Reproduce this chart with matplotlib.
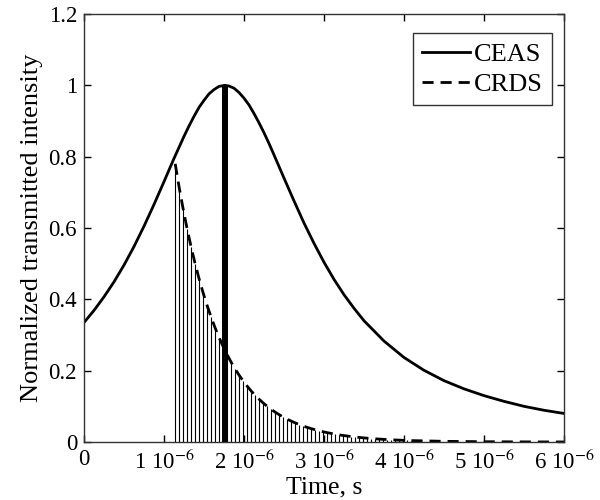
import numpy as np
import matplotlib
matplotlib.use("Agg")
import matplotlib.pyplot as plt

plt.rcParams['font.family'] = ['Liberation Serif', 'DejaVu Serif']
plt.rcParams['mathtext.fontset'] = 'stix'

# CEAS transmitted intensity (time in microseconds)
ceas_t_us = [0.0, 0.125, 0.25, 0.375, 0.5, 0.625, 0.75, 0.875, 1.0, 1.125, 1.25, 1.3125,
             1.375, 1.4375, 1.5, 1.5625, 1.625, 1.6875, 1.76, 1.8125, 1.875, 1.9375,
             2.0, 2.0625, 2.125, 2.1875, 2.25, 2.3125, 2.375, 2.5, 2.625, 2.75, 2.875,
             3.0, 3.125, 3.25, 3.375, 3.5, 3.75, 4.0, 4.25, 4.5, 4.75, 5.0, 5.25, 5.5,
             5.75, 6.0]
ceas_val = [0.335, 0.369, 0.407, 0.449, 0.496, 0.548, 0.605, 0.666, 0.730, 0.795, 0.857, 0.886,
            0.913, 0.938, 0.958, 0.976, 0.988, 0.997, 1.0, 0.998, 0.992, 0.980,
            0.964, 0.945, 0.921, 0.895, 0.867, 0.837, 0.805, 0.740, 0.676, 0.614, 0.557,
            0.504, 0.456, 0.413, 0.375, 0.340, 0.283, 0.237, 0.201, 0.172, 0.149, 0.130,
            0.114, 0.100, 0.089, 0.080]

# CRDS ring-down samples (time in microseconds)
crds_t_us = [1.14, 1.19, 1.24, 1.29, 1.34, 1.39, 1.44, 1.49, 1.54, 1.59,
             1.64, 1.69, 1.74, 1.79, 1.84, 1.89, 1.94, 1.99, 2.04, 2.09,
             2.14, 2.19, 2.24, 2.29, 2.34, 2.39, 2.44, 2.49, 2.54, 2.59,
             2.64, 2.69, 2.74, 2.79, 2.84, 2.89, 2.94, 2.99, 3.04, 3.09,
             3.14, 3.19, 3.24, 3.29, 3.34, 3.39, 3.44, 3.49, 3.54, 3.59,
             3.64, 3.69, 3.74, 3.79, 3.84, 3.89, 3.94, 3.99, 4.04, 4.09, 4.14]
crds_val = [0.780, 0.7134, 0.6525, 0.5967, 0.5458, 0.4992, 0.4565, 0.4175, 0.3819, 0.3493,
            0.3194, 0.2922, 0.2672, 0.2444, 0.2235, 0.2044, 0.1870, 0.1710, 0.1564, 0.1430,
            0.1308, 0.1196, 0.1094, 0.1001, 0.0915, 0.0837, 0.0766, 0.0700, 0.0640, 0.0586,
            0.0536, 0.0490, 0.0448, 0.0410, 0.0375, 0.0343, 0.0313, 0.0287, 0.0262, 0.0240,
            0.0219, 0.0200, 0.0183, 0.0168, 0.0153, 0.0140, 0.0128, 0.0117, 0.0107, 0.0098,
            0.0090, 0.0082, 0.0075, 0.0069, 0.0063, 0.0057, 0.0052, 0.0048, 0.0044, 0.0040, 0.0037]
crds_tail_t_us = [4.5, 5.0, 5.5, 6.0]
crds_tail_val = [0.0019, 0.0008, 0.0003, 0.0001]

# peak marker
peak_t_us = 1.76
peak_val = 1.0

xtick_vals = [0, 1, 2, 3, 4, 5, 6]
xtick_labels = ['0', '1 10$^{-6}$', '2 10$^{-6}$', '3 10$^{-6}$', '4 10$^{-6}$',
                '5 10$^{-6}$', '6 10$^{-6}$']
ytick_vals = [0, 0.2, 0.4, 0.6, 0.8, 1.0, 1.2]
ytick_labels = ['0', '0.2', '0.4', '0.6', '0.8', '1', '1.2']

us = 1e-6
fig = plt.figure(figsize=(6, 5), dpi=100)
ax = fig.add_axes([0.14, 0.116, 0.80, 0.856])

ct = np.array(crds_t_us) * us
cv = np.array(crds_val)
ax.vlines(ct, 0, cv, colors='black', linewidth=0.8)
ax.vlines([peak_t_us * us], 0, peak_val, colors='black', linewidth=4.3)

ax.plot(np.array(ceas_t_us) * us, ceas_val, color='black', lw=2.0, label='CEAS')
ax.plot(np.concatenate([ct, np.array(crds_tail_t_us) * us]),
        np.concatenate([cv, crds_tail_val]), color='black', lw=2.0,
        linestyle=(0, (4, 2.5)), label='CRDS')

ax.set_xlim(0, 6 * us)
ax.set_ylim(0, 1.2)
ax.set_xticks([v * us for v in xtick_vals])
ax.set_xticklabels(xtick_labels)
ax.set_yticks(ytick_vals)
ax.set_yticklabels(ytick_labels)
ax.tick_params(direction='in', top=True, right=True, length=5, width=1,
               labelsize=16.5, pad=5)
for s in ax.spines.values():
    s.set_linewidth(1.0)
    s.set_color('#333333')
ax.set_xlabel('Time, s', fontsize=18.5, labelpad=2)
ax.set_ylabel('Normalized transmitted intensity', fontsize=19, labelpad=4)

leg = ax.legend(loc='upper right', fontsize=19, frameon=True, fancybox=False,
                edgecolor='black', handlelength=1.8, handletextpad=0.15,
                borderpad=0.35, labelspacing=0.25, borderaxespad=0.0,
                bbox_to_anchor=(0.975, 0.955))
leg.get_frame().set_linewidth(1.0)

fig.savefig('out.png', dpi=100)
